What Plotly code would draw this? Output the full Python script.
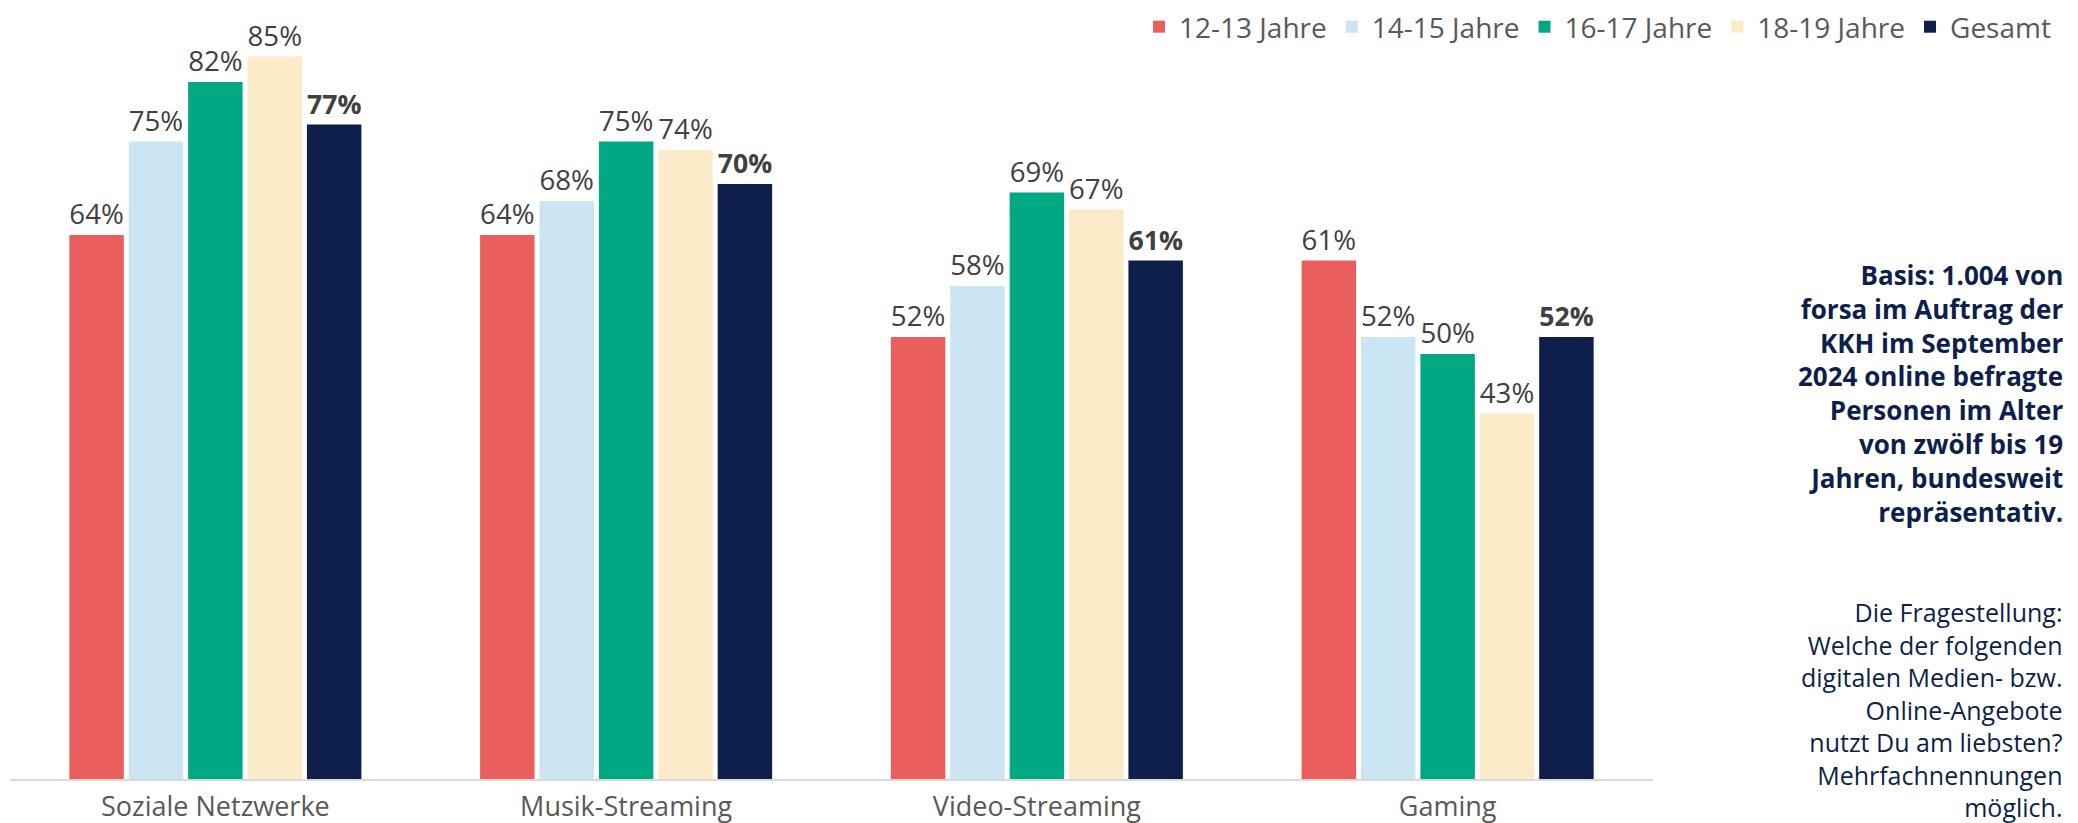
import plotly.graph_objects as go

categories = ["Soziale Netzwerke", "Musik-Streaming", "Video-Streaming", "Gaming"]
series_names = ["12-13 Jahre", "14-15 Jahre", "16-17 Jahre", "18-19 Jahre", "Gesamt"]
v_12_13 = [64, 64, 52, 61]
v_14_15 = [75, 68, 58, 52]
v_16_17 = [82, 75, 69, 50]
v_18_19 = [85, 74, 67, 43]
v_gesamt = [77, 70, 61, 52]
series_values = [v_12_13, v_14_15, v_16_17, v_18_19, v_gesamt]
colors = ["#EB5E5E", "#CBE6F2", "#00A884", "#FCEBC9", "#0D1F4A"]

note_bold = ("Basis: 1.004 von<br>forsa im Auftrag der<br>KKH im September<br>"
             "2024 online befragte<br>Personen im Alter<br>von zwölf bis 19<br>"
             "Jahren, bundesweit<br>repräsentativ.")
note_regular = ("Die Fragestellung:<br>Welche der folgenden<br>digitalen Medien- bzw.<br>"
                "Online-Angebote<br>nutzt Du am liebsten?<br>Mehrfachnennungen<br>möglich.")

FONT = "Open Sans"
fig = go.Figure()
for name, vals, col in zip(series_names, series_values, colors):
    bold = name == "Gesamt"
    fig.add_trace(go.Bar(
        name=name, x=categories, y=vals,
        marker=dict(color=col, line=dict(width=0)),
        text=[f"{v}%" for v in vals],
        textposition="outside",
        textfont=dict(family=FONT, size=28, color="#404040",
                      weight="bold" if bold else "normal"),
        cliponaxis=False,
    ))

# page body has an 8px margin: figure is 8px smaller and all positions shifted
fig.update_layout(
    width=2070, height=815,
    barmode="group", bargap=0.277, bargroupgap=0.083,
    plot_bgcolor="white", paper_bgcolor="white",
    margin=dict(l=2, r=425, t=6, b=44, autoexpand=False),
    font=dict(family=FONT, color="#595959"),
    showlegend=True,
    legend=dict(orientation="h", x=1.2453, xanchor="right", y=0.983, yanchor="middle",
                font=dict(family=FONT, size=28, color="#595959"),
                itemwidth=30, traceorder="normal", bgcolor="rgba(0,0,0,0)"),
)
fig.update_xaxes(showline=True, linecolor="#D9D9D9", linewidth=2, ticks="",
                 tickfont=dict(family=FONT, size=27, color="#595959"),
                 ticklabelstandoff=3, showgrid=False)
fig.update_yaxes(range=[0, 90], visible=False, showgrid=False)

fig.add_annotation(text=note_bold, xref="paper", yref="paper", x=1.2508, y=0.5035,
                   xanchor="right", yanchor="middle", align="right", showarrow=False,
                   font=dict(family=FONT, size=26, color="#0D1F4A", weight="bold"))
fig.add_annotation(text=note_regular, xref="paper", yref="paper", x=1.2508, y=0.0915,
                   xanchor="right", yanchor="middle", align="right", showarrow=False,
                   font=dict(family=FONT, size=25, color="#0D1F4A"))

fig.write_html("out.html")
